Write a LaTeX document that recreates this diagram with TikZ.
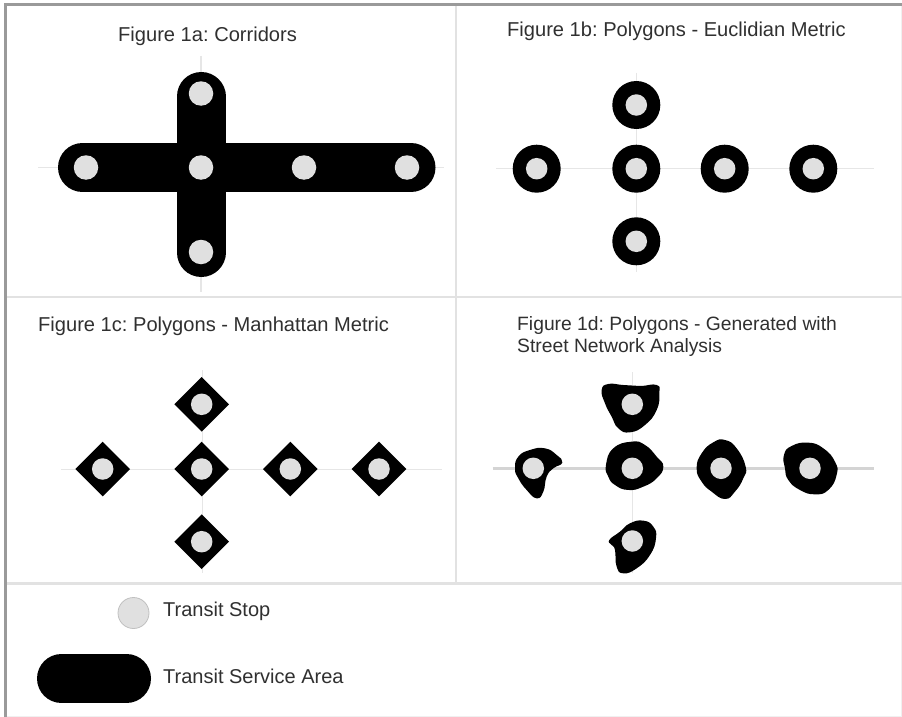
\documentclass[tikz,border=0pt]{standalone}
\usepackage{fontspec}
\setmainfont{Liberation Sans}
\frenchspacing
\definecolor{stopc}{HTML}{E0E0E0}
\definecolor{ruleg}{HTML}{E2E2E2}
\definecolor{edgeg}{HTML}{F0F0F0}
\definecolor{frameg}{HTML}{9A9A9A}
\definecolor{guide}{HTML}{E6E6E6}
\definecolor{guidestrong}{HTML}{D4D4D4}
\definecolor{txt}{HTML}{303030}
\tikzset{
  stopdot/.style={circle,fill=stopc,draw=none,minimum size=#1,inner sep=0pt},
  stopdot/.default=21.5pt,
  halo/.style={circle,fill=black,minimum size=48pt,inner sep=0pt},
  panelrule/.style={draw=ruleg,line width=2.2pt},
  guideline/.style={draw=guide,line width=1.4pt},
  caption/.style={anchor=west,inner sep=0pt,text=txt,font=\fontsize{20.1}{24}\selectfont},
  captiond/.style={anchor=west,inner sep=0pt,text=txt,font=\fontsize{19.3}{24}\selectfont},
  legendtext/.style={anchor=west,inner sep=0pt,text=txt,font=\fontsize{20}{24}\selectfont},
}
\begin{document}
\begin{tikzpicture}[x=1pt,y=-1pt]
\useasboundingbox (0,0) rectangle (902,717);
\fill[white] (0,0) rectangle (902,717);
% frame
\draw[draw=edgeg,line width=1pt] (7,716) -- (901,716) -- (901,5);
\draw[panelrule] (7,297) -- (902,297);
\draw[panelrule] (7,583.5) -- (902,583.5);
\draw[panelrule] (456,5) -- (456,583.5);
\draw[draw=frameg,line width=2.6pt] (5.5,717) -- (5.5,4.6) -- (902,4.6);
% ---- 1a
\draw[guideline] (38,167.5) -- (444,167.5);
\draw[guideline] (201,56) -- (201,292);
\draw[line width=49pt,line cap=round] (82.5,167.5) -- (411,167.5);
\draw[line width=49pt,line cap=round] (201,96.5) -- (201,252.5);
\node[stopdot=24.5pt] (a1) at (86,167.5) {};
\node[stopdot=24.5pt] (a2) at (201,167.5) {};
\node[stopdot=24.5pt] (a3) at (304,167.5) {};
\node[stopdot=24.5pt] (a4) at (407,167.5) {};
\node[stopdot=24.5pt] (a5) at (201,93.5) {};
\node[stopdot=24.5pt] (a6) at (201,252) {};
\node[caption] (ta) at (118,36) {Figure 1a: Corridors};
% ---- 1b
\draw[guideline] (496,168.7) -- (874,168.7);
\draw[guideline] (636.3,73) -- (636.3,272);
\foreach \n/\x/\y in {1/536.7/168.7,2/636.3/168.7,3/724.7/168.7,4/813.3/168.7,5/636.3/105,6/636.3/241.3}{
  \node[halo] (bh\n) at (\x,\y) {};
  \node[stopdot] (b\n) at (\x,\y) {};
}
\node[caption] (tb) at (507,31) {Figure 1b: Polygons - Euclidian Metric};
% ---- 1c
\draw[guideline,line width=1pt] (61,469.5) -- (442,469.5);
\draw[guideline,line width=1pt] (202,370) -- (202,573);
\foreach \n/\x/\y in {1/102.7/469,2/201.7/469,3/290.3/469,4/379/469,5/201.7/404.3,6/201.7/541.7}{
  \fill (\x-27.3,\y) -- (\x,\y-27.3) -- (\x+27.3,\y) -- (\x,\y+27.3) -- cycle;
  \node[stopdot] (c\n) at (\x,\y) {};
}
\node[caption] (tc) at (38,326) {Figure 1c: Polygons - Manhattan Metric};
% ---- 1d
\draw[draw=guidestrong,line width=2.6pt] (492.7,468.5) -- (874,468.5);
\draw[guideline] (632.3,372) -- (632.3,573);
\begin{scope}[shift={(480,360)},x=0.3333pt,y=-0.3333pt]
\fill[black] plot[smooth cycle,tension=0.85] coordinates {(365,90)(385,72)(430,75)(480,78)(530,75)(538,100)(530,150)(495,195)(450,217)(415,205)(395,170)(375,130)};
\fill[black] plot[smooth cycle,tension=0.85] coordinates {(378,315)(400,265)(455,245)(495,255)(530,290)(550,320)(530,355)(490,380)(445,390)(405,375)(385,350)};
\fill[black] plot[smooth cycle,tension=0.85] coordinates {(650,325)(665,280)(700,247)(735,240)(770,265)(797,320)(790,355)(765,395)(735,417)(695,395)(665,365)};
\fill[black] plot[smooth cycle,tension=0.85] coordinates {(912,285)(935,258)(985,248)(1030,265)(1065,305)(1070,345)(1045,390)(1005,403)(960,390)(925,360)(915,325)};
\fill[black] plot[smooth cycle,tension=0.85] coordinates {(105,325)(115,290)(150,270)(195,265)(230,285)(247,308)(220,325)(200,350)(190,395)(170,415)(140,390)(115,355)};
\fill[black] plot[smooth cycle,tension=0.85] coordinates {(388,540)(420,515)(450,490)(490,482)(520,500)(528,535)(510,585)(470,625)(430,640)(410,620)(405,570)(395,555)};
\end{scope}
\node[stopdot] (d1) at (533.3,468.3) {};
\node[stopdot] (d2) at (632.3,468.3) {};
\node[stopdot] (d3) at (721,468.3) {};
\node[stopdot] (d4) at (810,468.3) {};
\node[stopdot] (d5) at (632.3,404.3) {};
\node[stopdot] (d6) at (632.3,541) {};
\node[captiond] (td1) at (517,326) {Figure 1d: Polygons - Generated with};
\node[captiond] (td2) at (517,348) {Street Network Analysis};
% ---- legend
\node[circle,fill=stopc,draw=ruleg!85!black,line width=0.8pt,minimum size=31pt,inner sep=0pt] (ls) at (133.5,613) {};
\draw[line width=49pt,line cap=round] (61.5,678.5) -- (126.5,678.5);
\node[legendtext] (tls) at (163,611) {Transit Stop};
\node[legendtext] (tlp) at (163,676) {Transit Service Area};
\end{tikzpicture}
\end{document}
